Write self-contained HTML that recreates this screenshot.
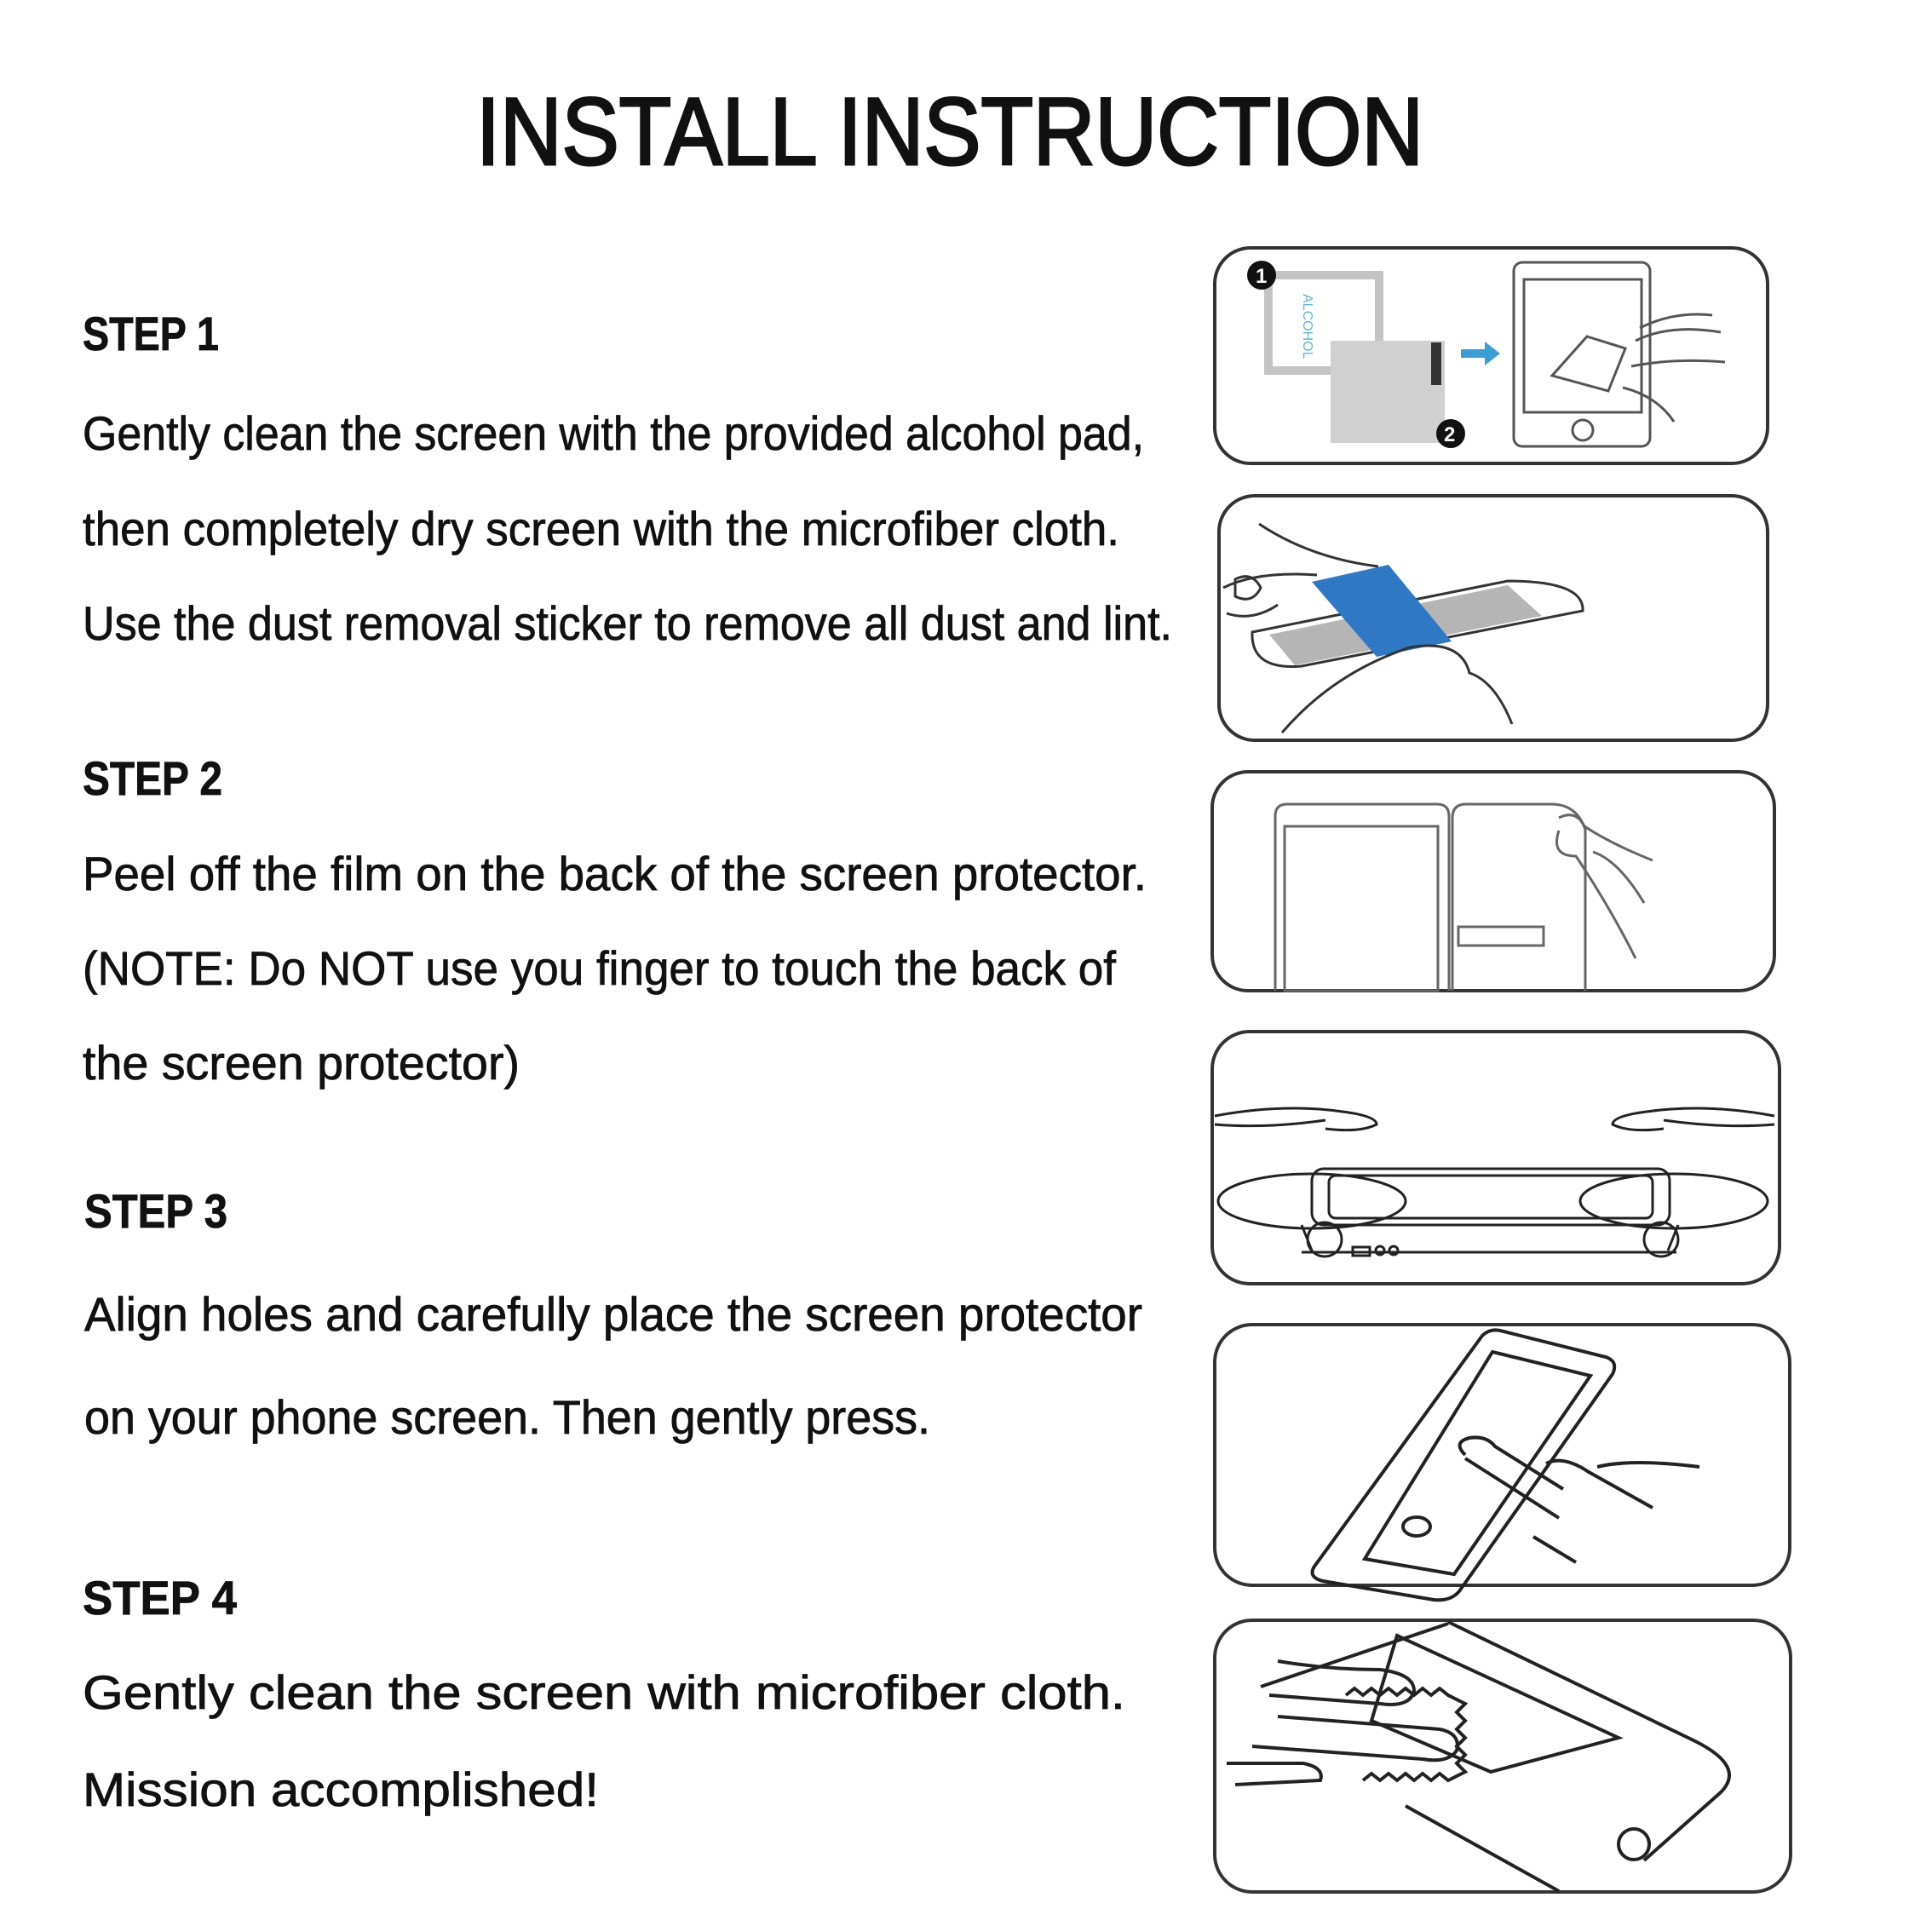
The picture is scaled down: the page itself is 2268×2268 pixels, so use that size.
<!DOCTYPE html>
<html><head><meta charset="utf-8"><style>
html,body{margin:0;padding:0;background:#fff;}
svg{display:block;}
text{font-family:"Liberation Sans",sans-serif;fill:#111;}
</style></head><body>
<svg width="2268" height="2268" viewBox="0 0 2268 2268" xmlns="http://www.w3.org/2000/svg">
<rect width="2268" height="2268" fill="#fff"/>
<text x="559" y="193" font-size="112" stroke="#111" stroke-width="3" textLength="1112" lengthAdjust="spacingAndGlyphs">INSTALL INSTRUCTION</text>

<g font-size="56" stroke="#111" stroke-width="0.8">
<text x="97" y="411" font-weight="bold" textLength="160" lengthAdjust="spacingAndGlyphs">STEP 1</text>
<text x="97" y="528" textLength="1246" lengthAdjust="spacingAndGlyphs">Gently clean the screen with the provided alcohol pad,</text>
<text x="97" y="640" textLength="1217" lengthAdjust="spacingAndGlyphs">then completely dry screen with the microfiber cloth.</text>
<text x="97" y="751" textLength="1279" lengthAdjust="spacingAndGlyphs">Use the dust removal sticker to remove all dust and lint.</text>

<text x="97" y="933" font-weight="bold" textLength="164" lengthAdjust="spacingAndGlyphs">STEP 2</text>
<text x="97" y="1045" textLength="1249" lengthAdjust="spacingAndGlyphs">Peel off the film on the back of the screen protector.</text>
<text x="97" y="1156" textLength="1213" lengthAdjust="spacingAndGlyphs">(NOTE: Do NOT use you finger to touch the back of</text>
<text x="97" y="1267" textLength="513" lengthAdjust="spacingAndGlyphs">the screen protector)</text>

<text x="99" y="1441" font-weight="bold" textLength="168" lengthAdjust="spacingAndGlyphs">STEP 3</text>
<text x="99" y="1562" textLength="1242" lengthAdjust="spacingAndGlyphs">Align holes and carefully place the screen protector</text>
<text x="99" y="1683" textLength="993" lengthAdjust="spacingAndGlyphs">on your phone screen. Then gently press.</text>

<text x="97" y="1895" font-weight="bold" textLength="181" lengthAdjust="spacingAndGlyphs">STEP 4</text>
<text x="97" y="2006" textLength="1224" lengthAdjust="spacingAndGlyphs">Gently clean the screen with microfiber cloth.</text>
<text x="97" y="2120" textLength="606" lengthAdjust="spacingAndGlyphs">Mission accomplished!</text>
</g>

<g fill="none" stroke="#333" stroke-width="4">
<rect x="1426" y="291" width="649" height="253" rx="42"/>
<rect x="1431" y="582" width="644" height="287" rx="42"/>
<rect x="1423" y="906" width="660" height="257" rx="42"/>
<rect x="1423" y="1211" width="666" height="296" rx="44"/>
<rect x="1426" y="1555" width="675" height="306" rx="44"/>
<rect x="1426" y="1902" width="676" height="319" rx="44"/>
</g>

<!-- box1 -->
<rect x="1489" y="323" width="130" height="112" fill="none" stroke="#c4c4c4" stroke-width="10"/>
<text x="1530" y="345" font-size="16" fill="#5bb6d6" transform="rotate(90 1530 345)" style="fill:#5bb6d6">ALCOHOL</text>
<rect x="1562" y="400" width="134" height="120" fill="#d0d0d0"/>
<rect x="1680" y="402" width="12" height="50" fill="#333"/>
<circle cx="1481" cy="323" r="17" fill="#111"/><text x="1474" y="332" font-size="24" font-weight="bold" style="fill:#fff">1</text>
<circle cx="1703" cy="509" r="17" fill="#111"/><text x="1695" y="518" font-size="24" font-weight="bold" style="fill:#fff">2</text>
<path d="M1715 410 h28 v-9 l18 14 -18 14 v-9 h-28z" fill="#3a9ed6"/>
<g fill="none" stroke="#555" stroke-width="3">
<rect x="1777" y="308" width="160" height="216" rx="10"/>
<rect x="1789" y="328" width="138" height="156"/>
<circle cx="1858" cy="505" r="12"/>
<path d="M1863 395 l45 14 -20 50 -66 -18z"/>
<path d="M1920 400 q40 -20 100 -10 M1915 430 q50 -10 110 -5 M1905 455 q40 10 60 40 M1925 385 q40 -20 85 -15"/>
</g>

<!-- box2 -->
<g fill="none" stroke="#333" stroke-width="3">
<path d="M1470 742 l300 -60 q90 0 88 35 l-330 65 q-60 5 -58 -40z" fill="#fff"/>
</g>
<path d="M1490 745 l280 -58 40 36 -290 58z" fill="#b5b5b5"/>
<path d="M1540 683 l90 -20 74 90 -88 18z" fill="#2f78c4"/>
<g fill="none" stroke="#333" stroke-width="3">
<path d="M1478 615 q60 40 140 50 M1436 690 q40 -20 110 -15 M1440 720 q30 10 60 -10 M1505 860 q60 -70 150 -100 q60 -10 70 30 q30 10 50 60"/>
<path d="M1450 680 q20 -10 30 10 q-10 20 -30 10z"/>
</g>

<!-- box3 -->
<g fill="none" stroke="#666" stroke-width="3">
<path d="M1497 1163 V958 q0 -14 14 -14 h176 q14 0 14 14 V1163"/>
<rect x="1508" y="970" width="180" height="193"/>
<path d="M1705 1163 V960 q0 -16 16 -16 h100 q30 0 40 30 V1163"/>
<rect x="1712" y="1088" width="100" height="22"/>
<path d="M1830 960 q20 -10 30 10 q30 20 80 40 M1830 975 q-10 30 20 30 q40 60 70 120 M1870 1000 q30 10 60 60"/>
</g>

<!-- box4 -->
<g fill="none" stroke="#222" stroke-width="3">
<rect x="1540" y="1372" width="420" height="66" rx="14"/>
<rect x="1560" y="1380" width="380" height="50" rx="8"/>
<path d="M1528 1470 h440"/>
<path d="M1528 1438 l12 30 M1970 1438 l-12 30"/>
<ellipse cx="1540" cy="1410" rx="110" ry="32"/>
<ellipse cx="1965" cy="1410" rx="110" ry="32"/>
<circle cx="1555" cy="1455" r="20"/><circle cx="1950" cy="1455" r="20"/>
<path d="M1426 1310 q80 -15 150 -5 q40 5 40 15 q-20 10 -60 5 M1426 1320 q60 5 130 -5 M2083 1310 q-80 -15 -150 -5 q-40 5 -40 15 q20 10 60 5 M2083 1320 q-60 5 -130 -5"/>
<rect x="1588" y="1464" width="20" height="10"/><circle cx="1620" cy="1468" r="5"/><circle cx="1636" cy="1468" r="5"/>
</g>

<!-- box5 -->
<g fill="none" stroke="#222" stroke-width="4">
<path d="M1740 1568 q10 -10 25 -5 l120 30 q15 5 8 20 l-180 255 q-10 12 -30 10 l-130 -22 q-20 -5 -8 -20z"/>
<path d="M1752 1587 l115 28 -160 233 -105 -18z"/>
<ellipse cx="1663" cy="1792" rx="16" ry="11"/>
<path d="M1720 1708 q-15 -15 5 -20 q20 -3 30 10 l80 50 M1720 1712 l110 70 M1815 1718 q20 -10 50 10 l75 42 M1875 1722 q40 -10 120 0 M1800 1804 l50 30"/>
</g>

<!-- box6 -->
<g fill="none" stroke="#222" stroke-width="4">
<path d="M1700 1904 l290 140 q60 30 30 60 l-90 80 M1480 1980 l220 -74 M1650 2120 l180 100"/>
<path d="M1640 1920 l260 120 -150 40 -140 -60z"/>
<circle cx="1918" cy="2165" r="18"/>
<path d="M1580 1990 l10 -8 10 8 10 -8 10 8 10 -8 10 8 10 -8 10 8 10 -8 10 8 10 -8 10 8 20 10 -10 10 10 10 -10 10 10 10 -10 10 10 10 -10 10 10 10 -20 10 -10 -8 -10 8 -10 -8 -10 8 -10 -8 -10 8 -10 -8 -10 8 -10 -8 -10 8"/>
<path d="M1500 1950 q60 10 120 10 q40 5 40 25 q-5 20 -40 15 l-130 -10 M1500 2015 l190 15 q25 5 20 25 q-10 15 -40 10 l-200 -15 M1440 2070 h90 q25 5 20 20 l-100 5"/>
</g>
</svg>
</body></html>
